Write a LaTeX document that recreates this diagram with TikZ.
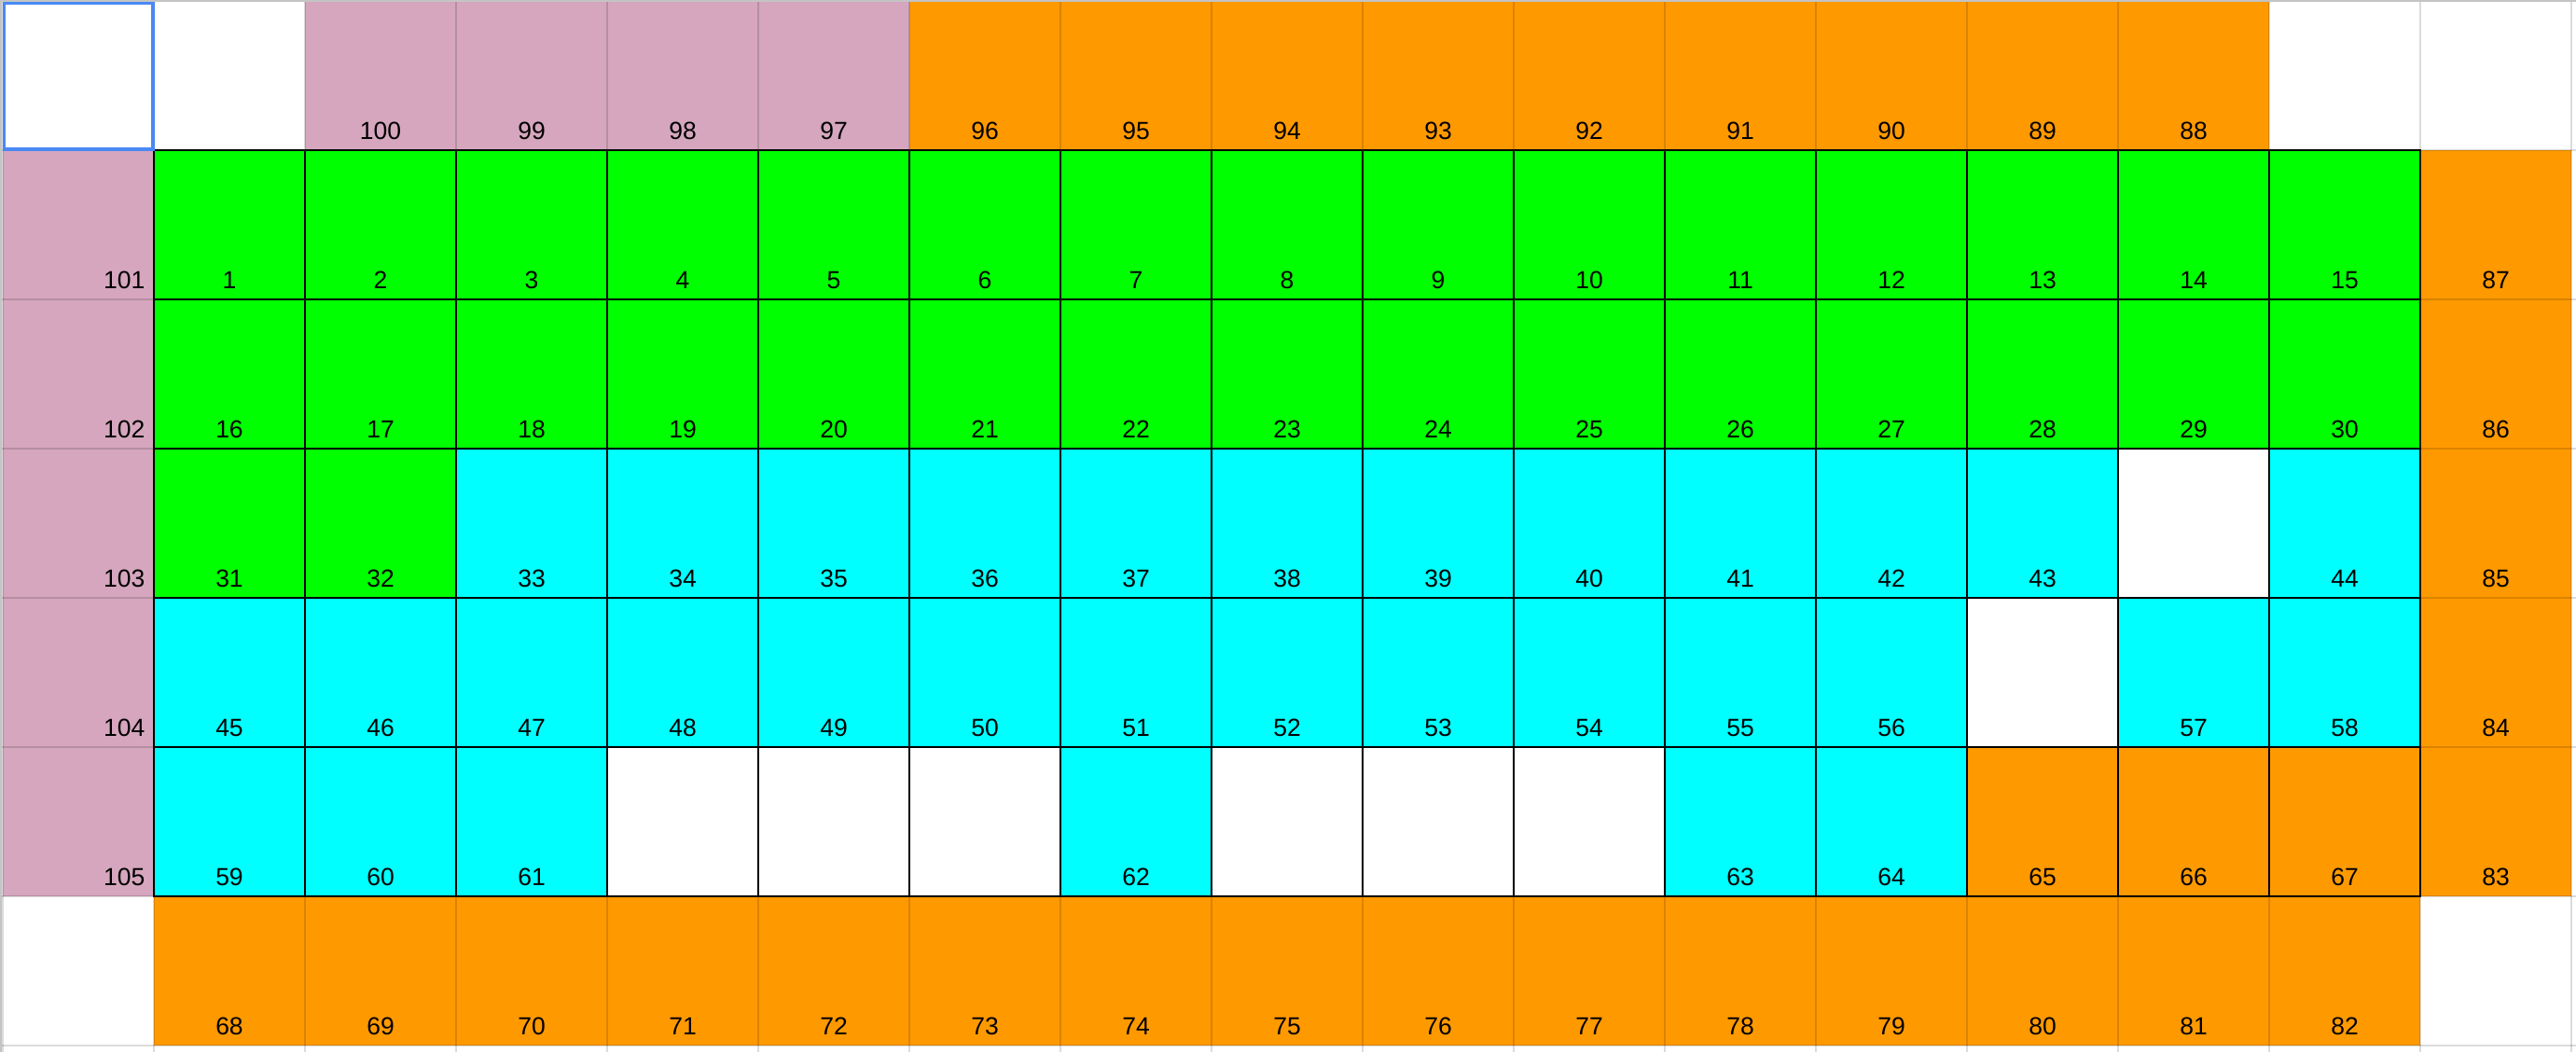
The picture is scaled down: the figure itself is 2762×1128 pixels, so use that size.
\documentclass[tikz,border=0pt]{standalone}
\usepackage{fontspec}
\setmainfont{Liberation Sans}
\definecolor{pinkc}{HTML}{D5A6BD}
\definecolor{orc}{HTML}{FF9900}
\definecolor{grc}{HTML}{00FF00}
\definecolor{cyc}{HTML}{00FFFF}
\definecolor{framec}{HTML}{C4C4C4}
\definecolor{selc}{HTML}{4A89F3}
\newcommand\mycell[4]{%
  \fill[#3] ({3+162*#1},{1+160*#2}) rectangle ({165+162*#1},{161+160*#2});
  \node[lab] (c-#1-#2) at ({84+162*#1},{149.5+160*#2}) {#4};}
\newcommand\mycellr[4]{%
  \fill[#3] ({3+162*#1},{1+160*#2}) rectangle ({165+162*#1},{161+160*#2});
  \node[lab,anchor=base east] (c-#1-#2) at ({155.5+162*#1},{149.5+160*#2}) {#4};}
\begin{document}
\begin{tikzpicture}[x=1pt,y=-1pt,
  lab/.style={font=\fontsize{26.5}{30}\selectfont, inner sep=0pt, anchor=base},
  gridln/.style={line width=1.3pt, black, opacity=0.14},
  border/.style={line width=2.6pt, black, line cap=rect},
  sel/.style={line width=3.4pt, selc}]
\useasboundingbox (0,0) rectangle (2762,1128);
\fill[white] (0,0) rectangle (2762,1128);
% row 0
\foreach \c in {2,...,5} {\pgfmathtruncatemacro\l{102-\c}\mycell{\c}{0}{pinkc}{\l}}
\foreach \c in {6,...,14} {\pgfmathtruncatemacro\l{102-\c}\mycell{\c}{0}{orc}{\l}}
% left pink column
\mycellr{0}{1}{pinkc}{101}
\mycellr{0}{2}{pinkc}{102}
\mycellr{0}{3}{pinkc}{103}
\mycellr{0}{4}{pinkc}{104}
\mycellr{0}{5}{pinkc}{105}
% right orange column
\mycell{16}{1}{orc}{87}
\mycell{16}{2}{orc}{86}
\mycell{16}{3}{orc}{85}
\mycell{16}{4}{orc}{84}
\mycell{16}{5}{orc}{83}
% row 1 and 2
\foreach \c in {1,...,15} {\mycell{\c}{1}{grc}{\c}}
\foreach \c in {1,...,15} {\pgfmathtruncatemacro\l{15+\c}\mycell{\c}{2}{grc}{\l}}
% row 3
\foreach \c in {1,2} {\pgfmathtruncatemacro\l{30+\c}\mycell{\c}{3}{grc}{\l}}
\foreach \c in {3,...,13} {\pgfmathtruncatemacro\l{30+\c}\mycell{\c}{3}{cyc}{\l}}
\mycell{15}{3}{cyc}{44}
% row 4
\foreach \c in {1,...,12} {\pgfmathtruncatemacro\l{44+\c}\mycell{\c}{4}{cyc}{\l}}
\mycell{14}{4}{cyc}{57}
\mycell{15}{4}{cyc}{58}
% row 5
\foreach \c in {1,2,3} {\pgfmathtruncatemacro\l{58+\c}\mycell{\c}{5}{cyc}{\l}}
\mycell{7}{5}{cyc}{62}
\mycell{11}{5}{cyc}{63}
\mycell{12}{5}{cyc}{64}
\foreach \c in {13,14,15} {\pgfmathtruncatemacro\l{52+\c}\mycell{\c}{5}{orc}{\l}}
% row 6
\foreach \c in {1,...,15} {\pgfmathtruncatemacro\l{67+\c}\mycell{\c}{6}{orc}{\l}}
% gridlines
\foreach \c in {0,...,17} {\draw[gridln] ({3+162*\c},0) -- ({3+162*\c},1128);}
\foreach \r in {0,...,7} {\draw[gridln] (0,{1+160*\r}) -- (2762,{1+160*\r});}
\draw[line width=2pt, framec] (1,0) -- (1,1128);
\draw[line width=1.6pt, framec] (0,0.8) -- (2762,0.8);
% black borders of the inner block
\foreach \c in {1,...,16} {\draw[border] ({3+162*\c},161) -- ({3+162*\c},961);}
\foreach \r in {1,...,6} {\draw[border] (165,{1+160*\r}) -- (2595,{1+160*\r});}
% selection
\draw[sel] (4.7,3.3) rectangle (164,159.8);
\end{tikzpicture}
\end{document}
